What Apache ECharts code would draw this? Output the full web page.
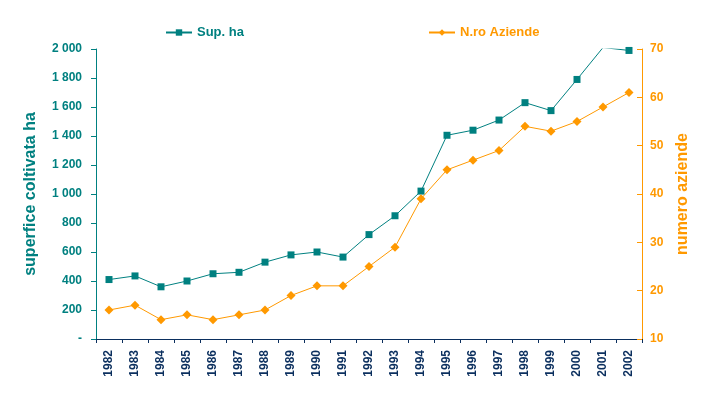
<!DOCTYPE html>
<html><head><meta charset="utf-8">
<script src="https://cdn.jsdelivr.net/npm/echarts@6/dist/echarts.min.js"></script>
<style>html,body{margin:0;padding:0;background:#fff}#c{width:711px;height:394px}</style>
</head><body><div id="c"></div>
<script>
const years = ['1982','1983','1984','1985','1986','1987','1988','1989','1990','1991','1992','1993','1994','1995','1996','1997','1998','1999','2000','2001','2002'];
const supHa = [410,435,360,400,450,460,530,580,600,565,720,850,1020,1405,1440,1510,1630,1575,1790,2010,1990];
const nAziende = [16,17,14,15,14,15,16,19,21,21,25,29,39,45,47,49,54,53,55,58,61];
const leftTicks = {min:0, max:2000, interval:200};
const rightTicks = {min:10, max:70, interval:10};

const TEAL = '#008080', ORANGE = '#FF9900', NAVY = '#0B2F5E';
const FONT = 'Liberation Sans, Arial, sans-serif';
const chart = echarts.init(document.getElementById('c'));
function fmt(v){ if (v===0) return '-'; const s=String(v); return s.length>3 ? s.slice(0,s.length-3)+' '+s.slice(-3) : s; }
chart.setOption({
  animation:false,
  grid:{left:96,right:69,top:49,bottom:55},
  legend:[
    {data:['Sup. ha'],left:160,top:21,itemWidth:26,itemHeight:8,itemGap:4,
     textStyle:{color:TEAL,fontWeight:'bold',fontSize:13,fontFamily:FONT}},
    {data:['N.ro Aziende'],left:423,top:21,itemWidth:26,itemHeight:8,itemGap:4,
     textStyle:{color:ORANGE,fontWeight:'bold',fontSize:13,fontFamily:FONT}}
  ],
  xAxis:{type:'category',data:years,boundaryGap:true,
    axisLine:{lineStyle:{color:NAVY,width:1}},
    axisTick:{show:true,length:4,lineStyle:{color:NAVY},alignWithLabel:false},
    axisLabel:{rotate:90,margin:11,color:NAVY,fontWeight:'bold',fontSize:12,fontFamily:FONT,interval:0}
  },
  yAxis:[
    {type:'value',min:leftTicks.min,max:leftTicks.max,interval:leftTicks.interval,position:'left',
     name:'superfice coltivata ha',nameLocation:'middle',nameGap:57,nameRotate:90,
     nameTextStyle:{color:TEAL,fontWeight:'bold',fontSize:16,fontFamily:FONT},
     axisLine:{show:true,lineStyle:{color:TEAL}},
     axisTick:{show:true,length:5,lineStyle:{color:TEAL}},
     splitLine:{show:false},
     axisLabel:{color:TEAL,fontWeight:'bold',fontSize:12,fontFamily:FONT,margin:14,formatter:fmt}
    },
    {type:'value',min:rightTicks.min,max:rightTicks.max,interval:rightTicks.interval,position:'right',
     name:'numero aziende',nameLocation:'middle',nameGap:29,nameRotate:90,
     nameTextStyle:{color:ORANGE,fontWeight:'bold',fontSize:16,fontFamily:FONT},
     axisLine:{show:true,lineStyle:{color:ORANGE}},
     axisTick:{show:true,length:5,inside:true,lineStyle:{color:ORANGE}},
     splitLine:{show:false},
     axisLabel:{color:ORANGE,fontWeight:'bold',fontSize:12,fontFamily:FONT,margin:8}
    }
  ],
  series:[
    {name:'Sup. ha',type:'line',yAxisIndex:0,data:supHa,symbol:'rect',symbolSize:7,
     lineStyle:{color:TEAL,width:1},itemStyle:{color:TEAL},clip:true},
    {name:'N.ro Aziende',type:'line',yAxisIndex:1,data:nAziende,symbol:'diamond',symbolSize:9,
     lineStyle:{color:ORANGE,width:1},itemStyle:{color:ORANGE},clip:true}
  ]
});
</script></body></html>
